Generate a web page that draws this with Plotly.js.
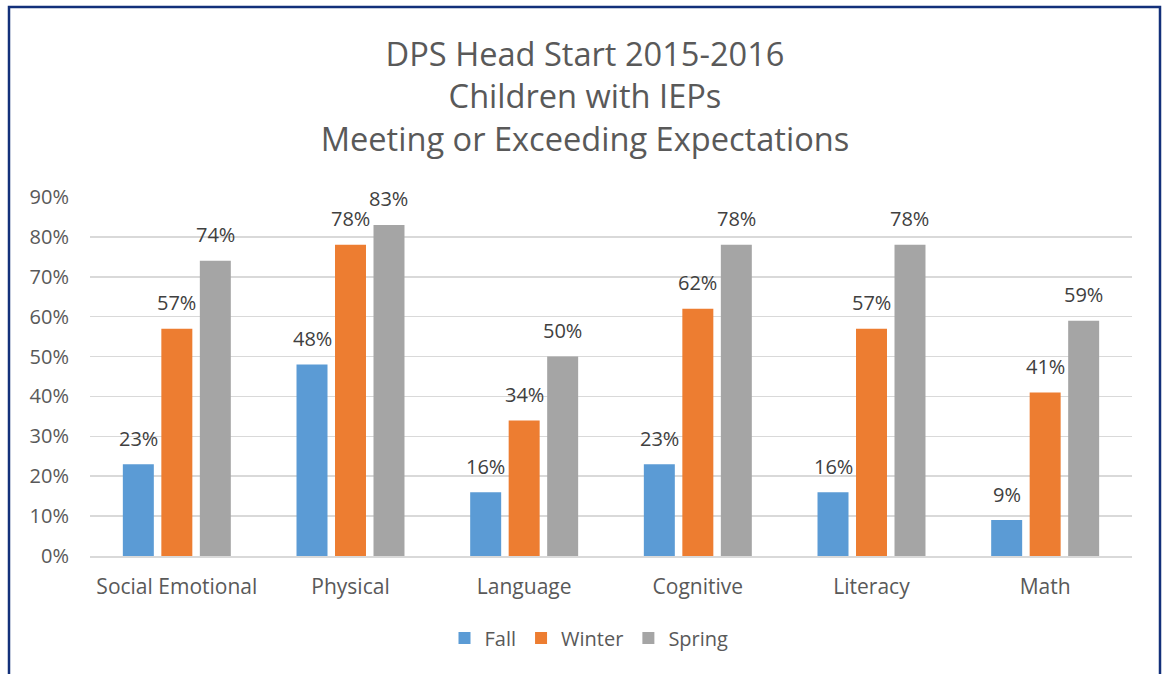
<!DOCTYPE html>
<html>
<head>
<meta charset="utf-8">
<script src="https://cdn.plot.ly/plotly-3.0.1.min.js"></script>
<style>
  html, body { margin: 0; padding: 0; background: #fff; overflow: hidden; }
  #chart { width: 1163px; height: 674px; }
</style>
</head>
<body>
<div id="chart"></div>
<script>
const categories = ["Social Emotional", "Physical", "Language", "Cognitive", "Literacy", "Math"];
const seriesNames = ["Fall", "Winter", "Spring"];
const fall   = [0.23, 0.48, 0.16, 0.23, 0.16, 0.09];
const winter = [0.57, 0.78, 0.34, 0.62, 0.57, 0.41];
const spring = [0.74, 0.83, 0.50, 0.78, 0.78, 0.59];
const yTicks = [0, 0.1, 0.2, 0.3, 0.4, 0.5, 0.6, 0.7, 0.8, 0.9];

const FONT = "'Open Sans', 'Noto Sans', sans-serif";
const colors = ["#5B9BD5", "#ED7D31", "#A5A5A5"];
const allValues = [fall, winter, spring];

const data = allValues.map((vals, i) => ({
  type: "bar",
  name: seriesNames[i],
  x: categories,
  y: vals,
  marker: { color: colors[i] },
  hoverinfo: "x+y"
}));

const L = 90, R = 31, T = 197, B = 118, W = 1163, H = 674;
const pw = W - L - R, ph = H - T - B;
const px = x => (x - L) / pw;
const py = y => (H - B - y) / ph;

const bargap = 0.335;
const slot = pw / categories.length * (1 - bargap) / 3;

const annotations = [];
allValues.forEach((vals, i) => {
  vals.forEach((v, j) => {
    annotations.push({
      xref: "x", yref: "y",
      x: categories[j], y: v,
      xshift: (i - 1) * slot,
      yshift: 26,
      text: Math.round(v * 100) + "%",
      showarrow: false,
      xanchor: "center", yanchor: "middle",
      font: { family: FONT, size: 20, color: "#404040" }
    });
  });
});

const layout = {
  width: W, height: H,
  margin: { l: L, r: R, t: T, b: B, pad: 0, autoexpand: false },
  paper_bgcolor: "#ffffff",
  plot_bgcolor: "#ffffff",
  font: { family: FONT, color: "#595959", size: 20 },
  title: {
    text: "DPS Head Start 2015-2016<br>Children with IEPs<br>Meeting or Exceeding Expectations",
    font: { family: FONT, size: 32.6, color: "#595959" },
    x: 585 / W, xref: "container", xanchor: "center",
    y: 1 - 66 / H, yref: "container", yanchor: "middle"
  },
  barmode: "group",
  bargap: bargap,
  bargroupgap: 0.195,
  showlegend: true,
  legend: {
    orientation: "h",
    x: px(589), xanchor: "center",
    y: py(638), yanchor: "middle",
    font: { family: FONT, size: 20, color: "#595959" },
    traceorder: "normal",
    itemwidth: 30
  },
  xaxis: {
    type: "category",
    showgrid: false,
    showline: true,
    linecolor: "#D9D9D9",
    linewidth: 1.5,
    ticks: "",
    tickangle: 0,
    automargin: false,
    tickfont: { family: FONT, size: 21, color: "#595959" },
    ticklabelstandoff: 11,
    fixedrange: true
  },
  yaxis: {
    range: [0, 0.9],
    tickvals: yTicks,
    tickformat: ".0%",
    showgrid: true,
    gridcolor: "#D9D9D9",
    gridwidth: 1.5,
    zeroline: false,
    showline: false,
    ticks: "",
    automargin: false,
    tickfont: { family: FONT, size: 20, color: "#595959" },
    ticklabelstandoff: 20,
    fixedrange: true
  },
  annotations: annotations,
  shapes: [
    {
      type: "rect", xref: "paper", yref: "paper",
      x0: px(9), x1: px(1160), y0: py(700), y1: py(7),
      line: { color: "#13307A", width: 2.5 },
      fillcolor: "rgba(0,0,0,0)",
      layer: "above"
    }
  ]
};

Plotly.newPlot("chart", data, layout, { displayModeBar: false, staticPlot: true });
</script>
</body>
</html>
